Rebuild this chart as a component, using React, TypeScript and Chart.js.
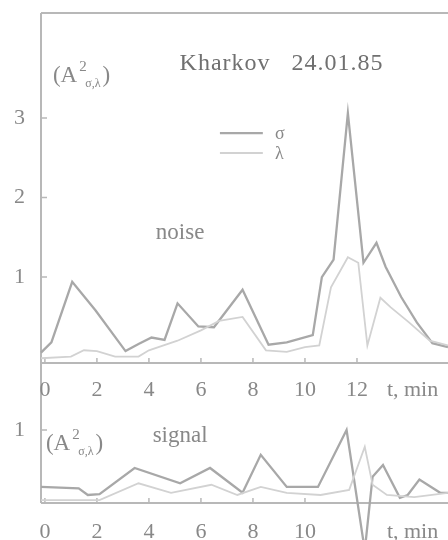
import React, { useEffect, useRef } from 'react';
import { Chart, registerables } from 'chart.js';

Chart.register(...registerables);

// ---------- data ----------
const seriesNames = ['σ', 'λ'];

const noiseSigmaT = [-0.15, 0.25, 1.05, 1.95, 3.1, 3.6, 4.1, 4.6, 5.1, 5.9, 6.5, 7.6, 8.6, 9.3, 10.3, 10.65, 11.1, 11.65, 12.25, 12.75, 13.1, 13.7, 14.3, 14.9, 15.5];
const noiseSigmaV = [0.05, 0.18, 0.94, 0.58, 0.07, 0.16, 0.24, 0.21, 0.67, 0.38, 0.37, 0.84, 0.15, 0.18, 0.27, 1.0, 1.22, 3.06, 1.18, 1.43, 1.13, 0.75, 0.43, 0.17, 0.12];

const noiseLambdaT = [-0.15, 1.0, 1.5, 2.0, 2.7, 3.6, 4.0, 5.1, 6.0, 6.7, 7.6, 8.5, 9.3, 10.0, 10.55, 11.0, 11.65, 12.05, 12.4, 12.9, 13.3, 14.0, 14.8, 15.5];
const noiseLambdaV = [-0.02, 0.0, 0.08, 0.07, 0.0, 0.0, 0.08, 0.2, 0.33, 0.45, 0.5, 0.08, 0.06, 0.12, 0.14, 0.87, 1.25, 1.18, 0.14, 0.74, 0.62, 0.43, 0.2, 0.14];

const signalSigmaT = [-0.15, 1.3, 1.65, 2.1, 3.45, 5.2, 6.35, 7.6, 8.3, 9.3, 10.5, 11.6, 12.3, 12.6, 13.0, 13.65, 13.95, 14.4, 15.2, 15.5];
const signalSigmaV = [0.22, 0.2, 0.11, 0.12, 0.48, 0.27, 0.48, 0.14, 0.66, 0.22, 0.22, 1.0, -0.65, 0.36, 0.52, 0.07, 0.11, 0.32, 0.14, 0.14];

const signalLambdaT = [-0.15, 2.1, 3.6, 4.85, 6.4, 7.4, 8.3, 9.3, 10.6, 11.7, 12.3, 12.6, 13.15, 14.2, 15.5];
const signalLambdaV = [0.04, 0.04, 0.27, 0.14, 0.25, 0.11, 0.22, 0.14, 0.11, 0.18, 0.77, 0.25, 0.11, 0.08, 0.14];

const xTicksTop = [0, 2, 4, 6, 8, 10, 12];
const xTicksBottom = [0, 2, 4, 6, 8, 10];
const yTicksTop = [1, 2, 3];
const yTicksBottom = [1];

// ---------- style ----------
const FONT = "'Liberation Serif', 'Times New Roman', serif";
const SIGMA_COLOR = '#a8a8a8';
const LAMBDA_COLOR = '#d2d2d2';
const AXIS_COLOR = '#b8b8b8';
const TEXT_COLOR = '#888888';
const TITLE_COLOR = '#707070';

const pts = (t: number[], v: number[]) => t.map((x, i) => ({ x, y: v[i] }));

function drawUnit(ctx: CanvasRenderingContext2D, x: number, y: number) {
  ctx.save();
  ctx.fillStyle = TEXT_COLOR;
  ctx.textAlign = 'left';
  ctx.textBaseline = 'alphabetic';
  ctx.font = `23px ${FONT}`;
  ctx.fillText('(A', x, y);
  const w = ctx.measureText('(A').width;
  ctx.font = `15px ${FONT}`;
  ctx.fillText('2', x + w + 2, y - 11);
  ctx.font = `12px ${FONT}`;
  const sub = 'σ,λ';
  ctx.fillText(sub, x + w + 8, y + 5);
  const sw = ctx.measureText(sub).width;
  ctx.font = `23px ${FONT}`;
  ctx.fillText(')', x + w + 10 + sw, y);
  ctx.restore();
}

function axesPlugin(xTicks: number[], yTicks: number[], topFrame: boolean) {
  return {
    id: 'axesDecor',
    beforeDatasetsDraw(chart: any) {
      const { ctx, chartArea } = chart;
      const xs = chart.scales.x;
      const ys = chart.scales.y;
      ctx.save();
      ctx.strokeStyle = AXIS_COLOR;
      ctx.lineWidth = 2;
      ctx.beginPath();
      ctx.moveTo(chartArea.left, chartArea.top);
      ctx.lineTo(chartArea.left, chartArea.bottom);
      ctx.moveTo(chartArea.left, chartArea.bottom);
      ctx.lineTo(chartArea.right, chartArea.bottom);
      if (topFrame) {
        ctx.moveTo(chartArea.left, chartArea.top);
        ctx.lineTo(chartArea.right, chartArea.top);
      }
      ctx.stroke();
      ctx.lineWidth = 1.5;
      ctx.beginPath();
      xTicks.forEach((v) => {
        const px = xs.getPixelForValue(v);
        ctx.moveTo(px, chartArea.bottom);
        ctx.lineTo(px, chartArea.bottom - 5);
      });
      yTicks.forEach((v) => {
        const py = ys.getPixelForValue(v);
        ctx.moveTo(chartArea.left, py);
        ctx.lineTo(chartArea.left + 6, py);
      });
      ctx.stroke();
      ctx.restore();
    },
  };
}

function topTextPlugin() {
  return {
    id: 'topText',
    afterDraw(chart: any) {
      const { ctx } = chart;
      const xs = chart.scales.x;
      const ys = chart.scales.y;
      const X = (v: number) => xs.getPixelForValue(v);
      const Y = (v: number) => ys.getPixelForValue(v);
      ctx.save();
      drawUnit(ctx, X(0.31), Y(3.45));
      ctx.fillStyle = TITLE_COLOR;
      ctx.font = `24px ${FONT}`;
      ctx.textAlign = 'center';
      ctx.textBaseline = 'alphabetic';
      (ctx as any).letterSpacing = '1px';
      ctx.fillText('Kharkov   24.01.85', X(9.1), Y(3.6));
      (ctx as any).letterSpacing = '0px';
      ctx.fillStyle = TEXT_COLOR;
      ctx.font = `23px ${FONT}`;
      ctx.fillText('noise', X(5.2), Y(1.48));
      // legend
      const lx0 = X(6.73), lx1 = X(8.38), lt = X(8.85);
      [[SIGMA_COLOR, 2.81, 2.2], [LAMBDA_COLOR, 2.56, 1.8]].forEach(([c, yv, lw]: any, i) => {
        ctx.strokeStyle = c;
        ctx.lineWidth = lw;
        ctx.beginPath();
        ctx.moveTo(lx0, Y(yv));
        ctx.lineTo(lx1, Y(yv));
        ctx.stroke();
        ctx.fillStyle = TEXT_COLOR;
        ctx.font = `18px ${FONT}`;
        ctx.textAlign = 'left';
        ctx.textBaseline = 'middle';
        ctx.fillText(seriesNames[i], lt, Y(yv) + 1);
      });
      ctx.fillStyle = TEXT_COLOR;
      ctx.font = `22px ${FONT}`;
      ctx.textAlign = 'left';
      ctx.textBaseline = 'middle';
      ctx.fillText('t, min', X(13.15), chart.chartArea.bottom + 27);
      ctx.restore();
    },
  };
}

function bottomTextPlugin() {
  return {
    id: 'bottomText',
    afterDraw(chart: any) {
      const { ctx } = chart;
      const xs = chart.scales.x;
      const ys = chart.scales.y;
      const X = (v: number) => xs.getPixelForValue(v);
      const Y = (v: number) => ys.getPixelForValue(v);
      ctx.save();
      drawUnit(ctx, X(0.04), Y(0.73));
      ctx.fillStyle = TEXT_COLOR;
      ctx.font = `23px ${FONT}`;
      ctx.textAlign = 'center';
      ctx.textBaseline = 'alphabetic';
      ctx.fillText('signal', X(5.2), Y(0.84));
      ctx.font = `22px ${FONT}`;
      ctx.textAlign = 'left';
      ctx.textBaseline = 'middle';
      ctx.fillText('t, min', X(13.15), chart.chartArea.bottom + 29);
      ctx.restore();
    },
  };
}

function makeOptions(opts: {
  xTicks: number[]; yTicks: number[]; yMin: number; yMax: number;
  xHeight: number; padTop: number; xPad: number;
}) {
  return {
    animation: false,
    responsive: false,
    maintainAspectRatio: false,
    layout: { padding: { top: opts.padTop, right: 0, left: 0, bottom: 0 } },
    plugins: { legend: { display: false }, tooltip: { enabled: false } },
    scales: {
      x: {
        type: 'linear',
        min: -0.15,
        max: 15.5,
        afterBuildTicks: (s: any) => { s.ticks = opts.xTicks.map((v) => ({ value: v })); },
        afterFit: (s: any) => {
          s.height = opts.xHeight;
          s.paddingLeft = 0; s.paddingRight = 0; s.paddingTop = 0; s.paddingBottom = 0;
        },
        grid: { display: false, drawTicks: false },
        border: { display: false },
        ticks: {
          color: TEXT_COLOR,
          font: { family: FONT, size: 22 },
          padding: opts.xPad,
          maxRotation: 0,
          autoSkip: false,
          callback: (v: any) => String(v),
        },
      },
      y: {
        type: 'linear',
        min: opts.yMin,
        max: opts.yMax,
        afterBuildTicks: (s: any) => { s.ticks = opts.yTicks.map((v) => ({ value: v })); },
        afterFit: (s: any) => {
          s.width = 41;
          s.paddingLeft = 0; s.paddingRight = 0; s.paddingTop = 0; s.paddingBottom = 0;
        },
        grid: { display: false, drawTicks: false },
        border: { display: false },
        ticks: {
          color: TEXT_COLOR,
          font: { family: FONT, size: 22 },
          padding: 16,
          callback: (v: any) => String(v),
        },
      },
    },
  };
}

function lineDs(label: string, data: any[], color: string, width: number) {
  return {
    label,
    data,
    borderColor: color,
    backgroundColor: color,
    borderWidth: width,
    pointRadius: 0,
    tension: 0,
    fill: false,
    clip: false as any,
  };
}

export default function App() {
  const topRef = useRef<HTMLCanvasElement>(null);
  const botRef = useRef<HTMLCanvasElement>(null);

  useEffect(() => {
    const top = new Chart(topRef.current as HTMLCanvasElement, {
      type: 'line',
      data: {
        datasets: [
          lineDs(seriesNames[1], pts(noiseLambdaT, noiseLambdaV), LAMBDA_COLOR, 1.8),
          lineDs(seriesNames[0], pts(noiseSigmaT, noiseSigmaV), SIGMA_COLOR, 2.3),
        ],
      },
      options: makeOptions({
        xTicks: xTicksTop, yTicks: yTicksTop, yMin: -0.08, yMax: 4.32,
        xHeight: 47, padTop: 13, xPad: 14,
      }) as any,
      plugins: [axesPlugin(xTicksTop, yTicksTop, true), topTextPlugin()],
    });
    const bot = new Chart(botRef.current as HTMLCanvasElement, {
      type: 'line',
      data: {
        datasets: [
          lineDs(seriesNames[1], pts(signalLambdaT, signalLambdaV), LAMBDA_COLOR, 1.8),
          lineDs(seriesNames[0], pts(signalSigmaT, signalSigmaV), SIGMA_COLOR, 2.3),
        ],
      },
      options: makeOptions({
        xTicks: xTicksBottom, yTicks: yTicksBottom, yMin: 0, yMax: 1.918,
        xHeight: 37, padTop: 0, xPad: 16,
      }) as any,
      plugins: [axesPlugin(xTicksBottom, yTicksBottom, false), bottomTextPlugin()],
    });
    return () => {
      top.destroy();
      bot.destroy();
    };
  }, []);

  return (
    <div style={{ position: 'absolute', left: 0, top: 0, width: 448, height: 540, overflow: 'hidden', background: '#fff' }}>
      <canvas ref={botRef} width={448} height={177} style={{ position: 'absolute', left: 0, top: 363, width: 448, height: 177 }} />
      <canvas ref={topRef} width={448} height={410} style={{ position: 'absolute', left: 0, top: 0, width: 448, height: 410 }} />
    </div>
  );
}
